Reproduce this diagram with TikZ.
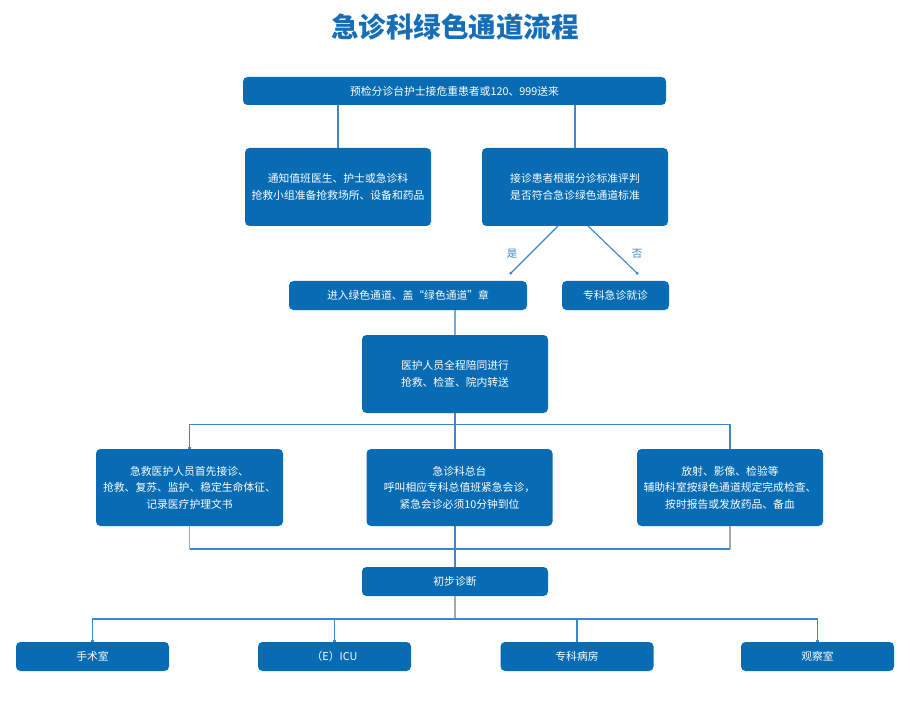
\documentclass[tikz,border=0pt]{standalone}
\usepackage{fontspec}
\setmainfont{Noto Sans CJK SC}
\usetikzlibrary{arrows.meta, calc, positioning}
\definecolor{erblue}{RGB}{8,108,181}
\definecolor{titleblue}{RGB}{22,110,184}
\definecolor{linkblue}{RGB}{58,135,201}
\definecolor{lightlink}{RGB}{110,170,220}
\definecolor{linkgray}{RGB}{168,168,168}

\begin{document}
\begin{tikzpicture}[x=1pt, y=-1pt,
    stepbox/.style n args={2}{fill=erblue, text=white, rounded corners=4.5pt, inner sep=0pt, outer sep=0pt,
      minimum width=#1, minimum height=#2, align=center, font=\fontsize{10.8}{16.5}\selectfont},
    link/.style={draw=linkblue, line width=1.1pt},
    tiplink/.style={link, -{Square[length=2.2pt,width=2.2pt]}},
    graylink/.style={draw=linkgray, line width=1.1pt}]
    \useasboundingbox[fill=white] (0,0) rectangle (910,711);
    \node[text=titleblue, font=\fontsize{27.5}{30}\selectfont\bfseries] (title) at (455,27) {急诊科绿色通道流程};
    \node[stepbox={423}{28}] (triage) at (454.5,91) {预检分诊台护士接危重患者或120、999送来};
    \node[stepbox={186}{78}] (notify) at (338,187) {通知值班医生、护士或急诊科\\抢救小组准备抢救场所、设备和药品};
    \node[stepbox={186}{78}] (judge) at (575,187) {接诊患者根据分诊标准评判\\是否符合急诊绿色通道标准};
    \node[stepbox={238}{29}] (green) at (408,295.5) {进入绿色通道、盖“绿色通道”章};
    \node[stepbox={107}{29}] (special) at (615.5,295.5) {专科急诊就诊};
    \node[stepbox={186}{78}] (escort) at (455,374) {医护人员全程陪同进行\\抢救、检查、院内转送};
    \node[stepbox={187}{77}] (rescue) at (189.5,487.5) {急救医护人员首先接诊、\\抢救、复苏、监护、稳定生命体征、\\记录医疗护理文书};
    \node[stepbox={186}{77}] (desk) at (459.5,487.5) {急诊科总台\\呼叫相应专科总值班紧急会诊，\\紧急会诊必须10分钟到位};
    \node[stepbox={186}{77}] (exam) at (730,487.5) {放射、影像、检验等\\辅助科室按绿色通道规定完成检查、\\按时报告或发放药品、备血};
    \node[stepbox={186}{29}] (diag) at (455,581.5) {初步诊断};
    \foreach \name/\x/\txt in {ward1/92.5/手术室, ward2/334.5/（E）ICU, ward3/577/专科病房, ward4/817.5/观察室} {
      \node[stepbox={153}{29}] (\name) at (\x,656.5) {\txt};
    }
    \coordinate (yes) at (510,274);
    \coordinate (no) at (638,274);
    \coordinate (fork) at (455,424.5);
    \coordinate (merge) at (455,549);
    \coordinate (spread) at (455,619);
    \node[text=linkblue, font=\fontsize{10.5}{12}\selectfont] (yeslabel) at (512,254) {是};
    \node[text=linkblue, font=\fontsize{10.5}{12}\selectfont] (nolabel) at (637,254) {否};
    \draw[tiplink] (triage.south -| notify.north) -- (notify.north);
    \draw[tiplink] (triage.south -| judge.north) -- (judge.north);
    \draw[tiplink] ([xshift=-17pt]judge.south) -- (yes);
    \draw[tiplink] ([xshift=13pt]judge.south) -- (no);
    \draw[tiplink, draw=lightlink] (green.south -| escort.north) -- (escort.north);
    \draw[link] (escort.south) -- (fork);
    \draw[tiplink] (fork) -| (rescue.north);
    \draw[tiplink] (fork) -| (exam.north);
    \draw[tiplink] (fork) -- (fork |- desk.north);
    \foreach \side in {rescue, exam} {
      \draw[graylink] (\side.south) -- (\side.south |- merge);
    }
    \draw[link] (rescue.south |- merge) -- (exam.south |- merge);
    \draw[link] (desk.south -| merge) -- (merge);
    \draw[tiplink] (merge) -- (diag.north);
    \draw[graylink] (diag.south) -- (spread);
    \foreach \name in {ward1, ward2, ward3, ward4} {
      \draw[tiplink] (spread) -| (\name.north);
    }
\end{tikzpicture}
\end{document}
